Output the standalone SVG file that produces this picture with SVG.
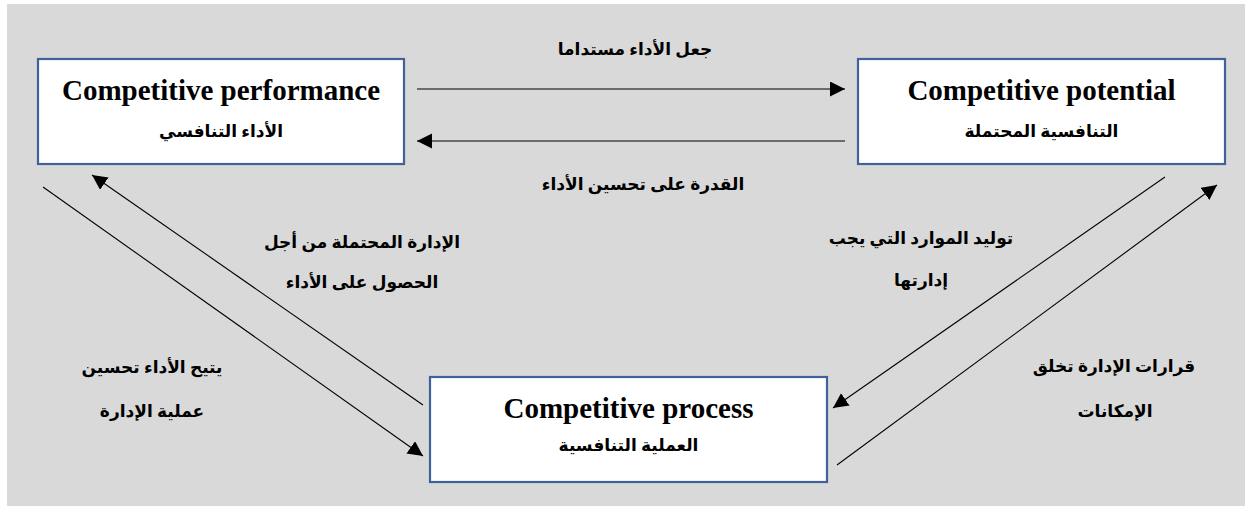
<svg xmlns="http://www.w3.org/2000/svg" width="1252" height="510" viewBox="0 0 1252 510">
<defs>
<marker id="ah" markerUnits="userSpaceOnUse" markerWidth="16" markerHeight="16" refX="15" refY="7.5" orient="auto">
<path d="M0,0 L15,7.5 L0,15 z" fill="#000"/>
</marker>
<style>
.box{fill:#fff;stroke:#41609e;stroke-width:2.2}
.en{font-family:"Liberation Serif","Times New Roman",serif;font-weight:bold;font-size:29px;fill:#000;text-anchor:middle}
.ar{font-family:"Liberation Serif","DejaVu Sans",sans-serif;font-weight:bold;font-size:17px;fill:#000;text-anchor:middle;direction:rtl;unicode-bidi:embed}
.lbl{font-family:"Liberation Serif","DejaVu Sans",sans-serif;font-weight:bold;font-size:17px;fill:#000;text-anchor:middle;direction:rtl;unicode-bidi:embed}
.c{stroke:#000;stroke-width:1.1;fill:none;marker-end:url(#ah)}
</style>
</defs>
<rect x="7" y="4" width="1238" height="502" fill="#d9d9d9"/>
<g id="node-performance">
<rect class="box" x="38" y="59" width="366" height="105"/>
<text class="en" x="221" y="100">Competitive performance</text>
<text class="ar" x="221" y="137">الأداء التنافسي</text>
</g>
<g id="node-potential">
<rect class="box" x="858" y="59" width="367" height="105"/>
<text class="en" x="1041.5" y="100">Competitive potential</text>
<text class="ar" x="1041.5" y="137">التنافسية المحتملة</text>
</g>
<g id="node-process">
<rect class="box" x="430" y="377" width="397" height="105"/>
<text class="en" x="628.5" y="418">Competitive process</text>
<text class="ar" x="628.5" y="451">العملية التنافسية</text>
</g>
<g id="connectors">
<line class="c" x1="417" y1="89" x2="845" y2="89"/>
<line class="c" x1="845" y1="141" x2="417" y2="141"/>
<line class="c" x1="43" y1="187" x2="423" y2="456"/>
<line class="c" x1="423" y1="405" x2="92" y2="175"/>
<line class="c" x1="1165" y1="177" x2="833" y2="408"/>
<line class="c" x1="837" y1="465" x2="1217" y2="185"/>
</g>
<g id="labels">
<text class="lbl" x="635" y="55">جعل الأداء مستداما</text>
<text class="lbl" x="643" y="190">القدرة على تحسين الأداء</text>
<text class="lbl" x="362" y="248">الإدارة المحتملة من أجل</text>
<text class="lbl" x="362" y="288">الحصول على الأداء</text>
<text class="lbl" x="152" y="373">يتيح الأداء تحسين</text>
<text class="lbl" x="152" y="417">عملية الإدارة</text>
<text class="lbl" x="921" y="244">توليد الموارد التي يجب</text>
<text class="lbl" x="921" y="286">إدارتها</text>
<text class="lbl" x="1114" y="372">قرارات الإدارة تخلق</text>
<text class="lbl" x="1115" y="417">الإمكانات</text>
</g>
</svg>
